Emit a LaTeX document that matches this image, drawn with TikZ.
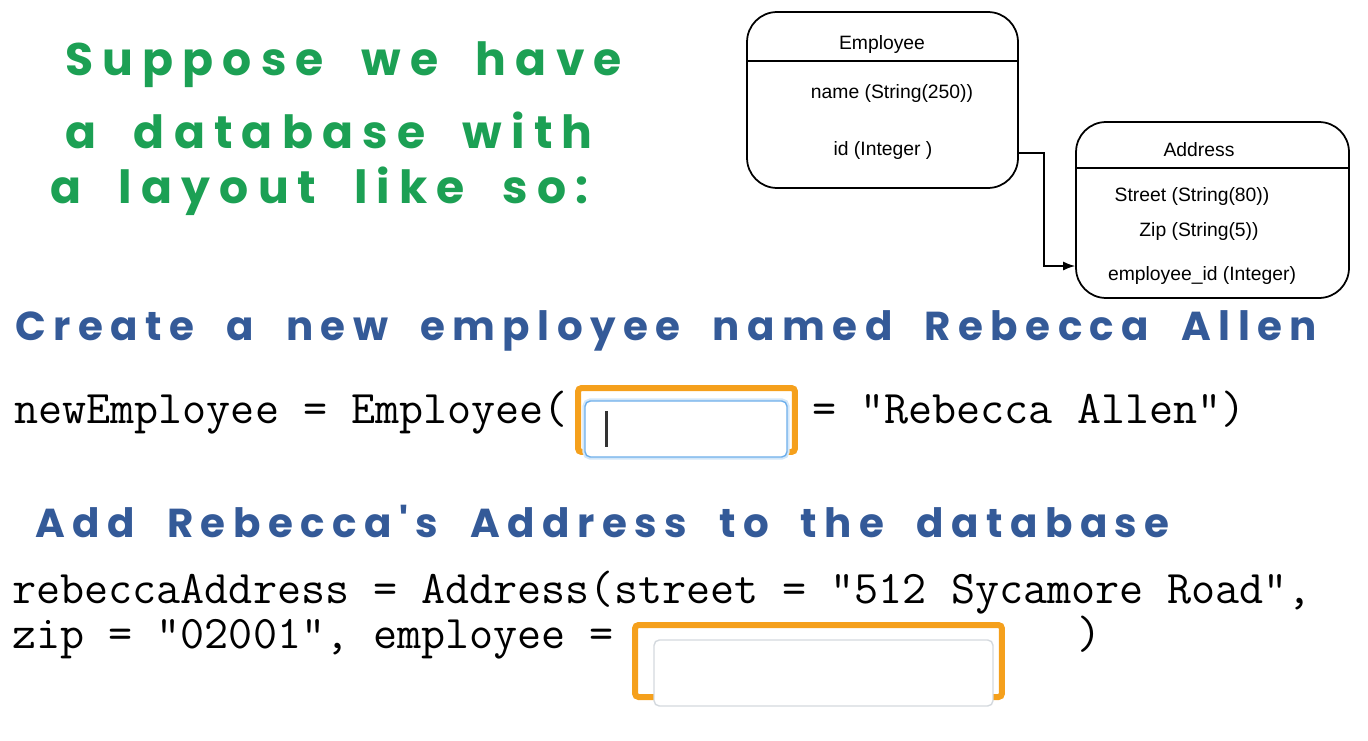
\documentclass[tikz,border=0pt]{standalone}
\usepackage{fontspec}
\setmainfont{Liberation Sans}
\newfontfamily\greenhand{Poppins}[LetterSpace=20,WordSpace=2]
\newfontfamily\bluehand{Poppins}[LetterSpace=18.5,WordSpace=2]
\newfontfamily\boxfont{Liberation Sans}
\usetikzlibrary{positioning}
\usetikzlibrary{arrows.meta}
\usetikzlibrary{calc}
\definecolor{handgreen}{RGB}{28,160,84}
\definecolor{handblue}{RGB}{52,90,152}
\definecolor{slotorange}{RGB}{245,160,28}
\definecolor{focusblue}{RGB}{110,175,235}
\definecolor{fieldgray}{RGB}{212,217,222}
\tikzset{
    entity/.style={ % Sets the properties for each table box
        draw,
        line width=1pt,
        rounded corners=0.6cm,
        minimum width=5.42cm,
        minimum height=3.52cm
    },
    field/.style={font=\boxfont\fontsize{11}{13}\selectfont},
    note/.style={anchor=base west, inner sep=0pt, text=handgreen, font=\greenhand\bfseries\fontsize{26}{30}\selectfont},
    task/.style={note, text=handblue, font=\bluehand\bfseries\fontsize{23}{28}\selectfont},
    code/.style={anchor=base west, inner sep=0pt, align=left, font=\ttfamily\fontsize{26.6}{23.3}\selectfont},
    slot/.style={draw=slotorange, line width=0.12cm, rounded corners=2pt},
    inputbox/.style={fill=white, rounded corners=3pt, line width=0.8pt},
    >={Latex[length=2.4mm,width=1.8mm]} % Filled arrow heads
}

\begin{document}
\begin{tikzpicture}[x=0.02cm, y=-0.02cm]
    \useasboundingbox (0,0) rectangle (1368,740);

    % handwritten notes
    \node[note] (intro1) at (65,75) {Suppose we have};
    \node[note] (intro2) at (65,148) {a database with};
    \node[note] (intro3) at (50,203) {a layout like so:};
    \node[task] (task1) at (15,340) {Create a new employee named Rebecca Allen};
    \node[task] (task2) at (35,537) {Add Rebecca's Address to the database};

    % tables
    \node[entity] (emp) at (882.5,100) {};
    \node[field] (empname) at (882,45) {Employee};
    \node[field] (empf1) at (892,94) {name (String(250))};
    \node[field] (empf2) at (883,151) {id (Integer )};
    \draw[line width=1pt] ($(emp.west)+(0,-39)$) -- ($(emp.east)+(0,-39)$);

    \node[entity, minimum width=5.46cm] (addr) at (1212.5,210) {};
    \node[field] (addrname) at (1199,150) {Address};
    \node[field] (addrf1) at (1192,197) {Street (String(80))};
    \node[field] (addrf2) at (1199,232) {Zip (String(5))};
    \node[field] (addrf3) at (1202,276) {employee\_id (Integer)};
    \draw[line width=1pt] ($(addr.west)+(0,-42)$) -- ($(addr.east)+(0,-42)$);

    \draw[->, line width=0.8pt] ($(emp.east |- empf2)+(0,2)$) -- ++(25,0) |- ($(addr.west |- addrf3)+(0,-10)$);

    % first code line
    \node[code] (code1) at (14,423) {newEmployee = Employee(};
    \node[code] (code1b) at (812,423) {= "Rebecca Allen")};
    \node[slot, minimum width=4.34cm, minimum height=1.28cm] (slot1) at (686.5,420) {};
    \node[inputbox, draw=focusblue, preaction={draw=focusblue!30, line width=3pt},
          minimum width=4.04cm, minimum height=1.12cm] (input1) at (686,429) {};
    \draw[line width=1.5pt, black!80] ([xshift=0.44cm]input1.west) ++(0,-18) -- ++(0,36);

    % second code line (two lines, base = last line)
    \node[code] (code2) at (12,648) {rebeccaAddress = Address(street = "512 Sycamore Road",\\zip = "02001", employee =\hspace{9.28cm})};
    \node[slot, minimum width=7.34cm, minimum height=1.44cm] (slot2) at (818.5,661) {};
    \node[inputbox, draw=fieldgray, minimum width=6.78cm, minimum height=1.32cm] (input2) at (823.5,673) {};
\end{tikzpicture}
\end{document}
